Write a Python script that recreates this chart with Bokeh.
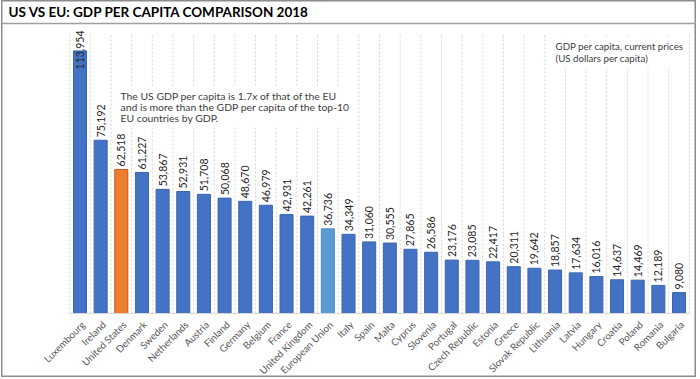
import math
from bokeh.plotting import figure
from bokeh.models import ColumnDataSource, Range1d, Label, Span
from bokeh.core.properties import value
from bokeh.embed import file_html
from bokeh.resources import INLINE

countries = ["Luxembourg", "Ireland", "United States", "Denmark", "Sweden", "Netherlands",
             "Austria", "Finland", "Germany", "Belgium", "France", "United Kingdom",
             "European Union", "Italy", "Spain", "Malta", "Cyprus", "Slovenia", "Portugal",
             "Czech Republic", "Estonia", "Greece", "Slovak Republic", "Lithuania", "Latvia",
             "Hungary", "Croatia", "Poland", "Romania", "Bulgaria"]
gdp = [113954, 75192, 62518, 61227, 53867, 52931, 51708, 50068, 48670, 46979, 42931, 42261,
       36736, 34349, 31060, 30555, 27865, 26586, 23176, 23085, 22417, 20311, 19642, 18857,
       17634, 16016, 14637, 14469, 12189, 9080]

title_text = "US VS EU: GDP PER CAPITA COMPARISON 2018"
note_text = ("The US GDP per capita is 1.7x of that of the EU\n"
             "and is more than the GDP per capita of the top-10\n"
             "EU countries by GDP.")
unit_text = "GDP per capita, current prices\n(US dollars per capita)"

FONT = "Lato"
BLUE, ORANGE, LIGHT = "#4472C4", "#ED7D31", "#5B9BD5"
colors = [ORANGE if c == "United States" else LIGHT if c == "European Union" else BLUE
          for c in countries]
edges = ["#C55A11" if c == "United States" else "#4E8ACB" if c == "European Union" else "#3B64B0"
         for c in countries]

n = len(countries)
idx = list(range(n))

W, H = 695, 377
PLOT_TOP = 121500
TITLE_LINE = 125841

p = figure(width=W, height=H, output_backend="svg", toolbar_location=None,
           x_axis_type=None, y_axis_type=None,
           x_range=Range1d(-3.80, 29.847), y_range=Range1d(-27772, 135821),
           min_border_left=0, min_border_right=0, min_border_bottom=0, min_border_top=0)
p.margin = (0, 0, 0, 1)
p.grid.visible = False
p.outline_line_color = "#8c8c8c"
p.outline_line_width = 2
p.background_fill_color = "white"
p.border_fill_color = "white"

# line under the title
p.add_layout(Span(location=TITLE_LINE, dimension="width", line_color="#a0a0a0", line_width=1.5))

# gridlines at category boundaries
bounds = [i - 0.5 for i in range(n + 1)]
p.segment(x0=bounds, x1=bounds, y0=[0] * len(bounds), y1=[PLOT_TOP] * len(bounds),
          line_color="#d4d4d4", line_width=1, line_dash="2 2")

src = ColumnDataSource(dict(x=idx, top=gdp, color=colors, edge=edges, name=countries))
p.vbar(x="x", top="top", bottom=0, width=0.63, fill_color="color", line_color="edge",
       line_width=1, source=src)

# baseline
p.segment(x0=[-0.5], x1=[n - 0.5], y0=[0], y1=[0], line_color="#d9d9d9", line_width=1)

fits = [v < 100000 for v in gdp]
src_out = ColumnDataSource(dict(x=[i for i in idx if fits[i]], y=[gdp[i] for i in idx if fits[i]],
                                lab=[f"{gdp[i]:,}" for i in idx if fits[i]]))
src_in = ColumnDataSource(dict(x=[i for i in idx if not fits[i]],
                               y=[PLOT_TOP + 1300] * sum(not f for f in fits),
                               lab=[f"{gdp[i]:,}" for i in idx if not fits[i]]))
p.text(x="x", y="y", text="lab", source=src_out, angle=math.pi / 2, text_align="left",
       text_baseline="middle", y_offset=-3, text_font=value(FONT), text_font_size="10.5px",
       text_color="#262626")
p.text(x="x", y="y", text="lab", source=src_in, angle=math.pi / 2, text_align="right",
       text_baseline="middle", text_font=value(FONT), text_font_size="10.5px",
       text_color="#262626")

# category labels
p.text(x=[i + 0.15 for i in idx], y=[-4000] * n, text=countries, angle=math.pi / 4,
       text_align="right", text_baseline="middle", text_font=value(FONT),
       text_font_size="9.8px", text_color="#595959")

p.add_layout(Label(x=1.815, y=98300, text=note_text, text_align="left", text_baseline="top",
                   text_font=FONT, text_font_size="10.4px", text_color="#404040",
                   background_fill_color="white", padding=3, text_line_height=0.92))
p.add_layout(Label(x=22.83, y=120200, text=unit_text, text_align="left", text_baseline="top",
                   text_font=FONT, text_font_size="9.7px", text_color="#404040",
                   background_fill_color="white", padding=4, text_line_height=0.98))

# title
p.add_layout(Label(x=7, y=H - 11.5, x_units="screen", y_units="screen", text=title_text,
                   text_align="left", text_baseline="middle", text_font=FONT,
                   text_font_style="bold", text_font_size="13.5px", text_color="#000000"))

open("out.html", "w").write(file_html(p, INLINE))
